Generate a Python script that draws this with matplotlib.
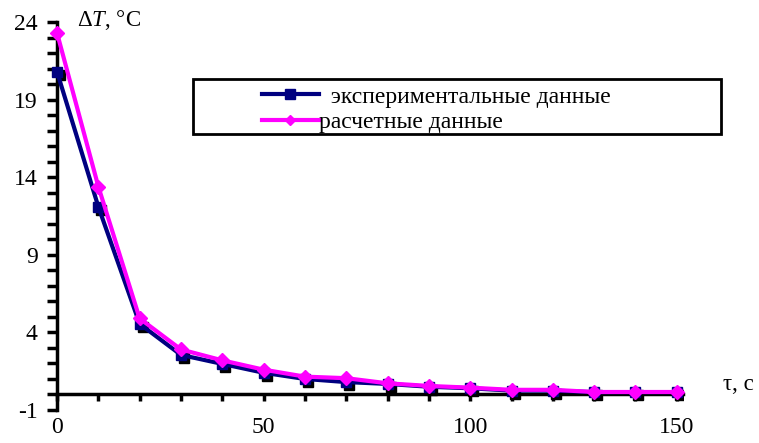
import matplotlib
matplotlib.use("Agg")
import matplotlib.pyplot as plt
import matplotlib.transforms as mtransforms
from matplotlib.lines import Line2D
from matplotlib.patches import Rectangle
from matplotlib.ticker import MultipleLocator, FixedLocator

plt.rcParams['font.family'] = ['Liberation Serif', 'DejaVu Serif']
plt.rcParams['mathtext.fontset'] = 'custom'
plt.rcParams['mathtext.rm'] = 'Liberation Serif'
plt.rcParams['mathtext.it'] = 'Liberation Serif:italic'
plt.rcParams['axes.unicode_minus'] = False

# time, s
tau = [0, 10, 20, 30, 40, 50, 60, 70, 80, 90, 100, 110, 120, 130, 140, 150]
# measured temperature difference, °C
dT_exp = [20.8, 12.1, 4.55, 2.55, 1.97, 1.4, 1.0, 0.8, 0.68, 0.5, 0.4, 0.25, 0.25, 0.15, 0.15, 0.15]
# calculated temperature difference, °C
dT_calc = [23.3, 13.4, 4.9, 2.9, 2.2, 1.6, 1.15, 1.05, 0.72, 0.55, 0.44, 0.3, 0.3, 0.16, 0.16, 0.16]

label_exp = "  экспериментальные данные"
label_calc = "расчетные данные"
x_major = [0, 50, 100, 150]
y_major = [-1, 4, 9, 14, 19, 24]

W, H = 759, 443
fig = plt.figure(figsize=(W / 100, H / 100), dpi=100)
ax = fig.add_axes([57 / W, (H - 410) / H, (683 - 57) / W, (410 - 22) / H])
ax.set_xlim(0, 151.5)
ax.set_ylim(-1, 24)

navy = '#000080'
magenta = '#FF00FF'

# drop shadow under the measured points
shadow = mtransforms.offset_copy(ax.transData, fig=fig, x=3, y=-3, units='dots')
ax.plot(tau, dT_exp, ls='none', marker='s', ms=7.5, color='black', transform=shadow, zorder=2)
ax.plot(tau, dT_exp, color=navy, lw=3, marker='s', ms=7.5, zorder=3, clip_on=False)
ax.plot(tau, dT_calc, color=magenta, lw=3, marker='D', ms=7, zorder=4, clip_on=False)

# axes styling
for s in ('top', 'right'):
    ax.spines[s].set_visible(False)
ax.spines['bottom'].set_position(('data', 0))
ax.spines['bottom'].set_linewidth(2.5)
ax.spines['left'].set_linewidth(2.5)

ax.xaxis.set_major_locator(FixedLocator(x_major))
ax.xaxis.set_minor_locator(MultipleLocator(10))
ax.yaxis.set_major_locator(FixedLocator(y_major))
ax.yaxis.set_minor_locator(MultipleLocator(1))
ax.tick_params(axis='x', which='both', direction='out', length=5, width=2.5, pad=11,
               labelsize=17)
ax.tick_params(axis='y', which='both', direction='out', length=7, width=2.5, pad=7,
               labelsize=17)

fig.text(77 / W, 1 - 20 / H, r"Δ$T$, °C", fontsize=16.5, va='center', ha='left')
fig.text(723 / W, 1 - 385 / H, "τ, с", fontsize=16.5, va='center', ha='left')

# legend frame and entries
fig.patches.append(Rectangle((193 / W, 1 - 134 / H), (721 - 193) / W, (134 - 79) / H,
                             transform=fig.transFigure, fill=False, lw=2, ec='black'))
handles = [Line2D([], [], color=navy, lw=3, marker='s', ms=7.5),
           Line2D([], [], color=magenta, lw=3, marker='D', ms=5)]
fig.legend(handles, [label_exp, label_calc], loc='upper left',
           bbox_to_anchor=(262 / W, 1 - 86 / H), frameon=False, fontsize=17,
           handlelength=2.4, handletextpad=0.0, labelspacing=0.17, borderpad=0,
           borderaxespad=0)

fig.savefig('out.png', dpi=100)
